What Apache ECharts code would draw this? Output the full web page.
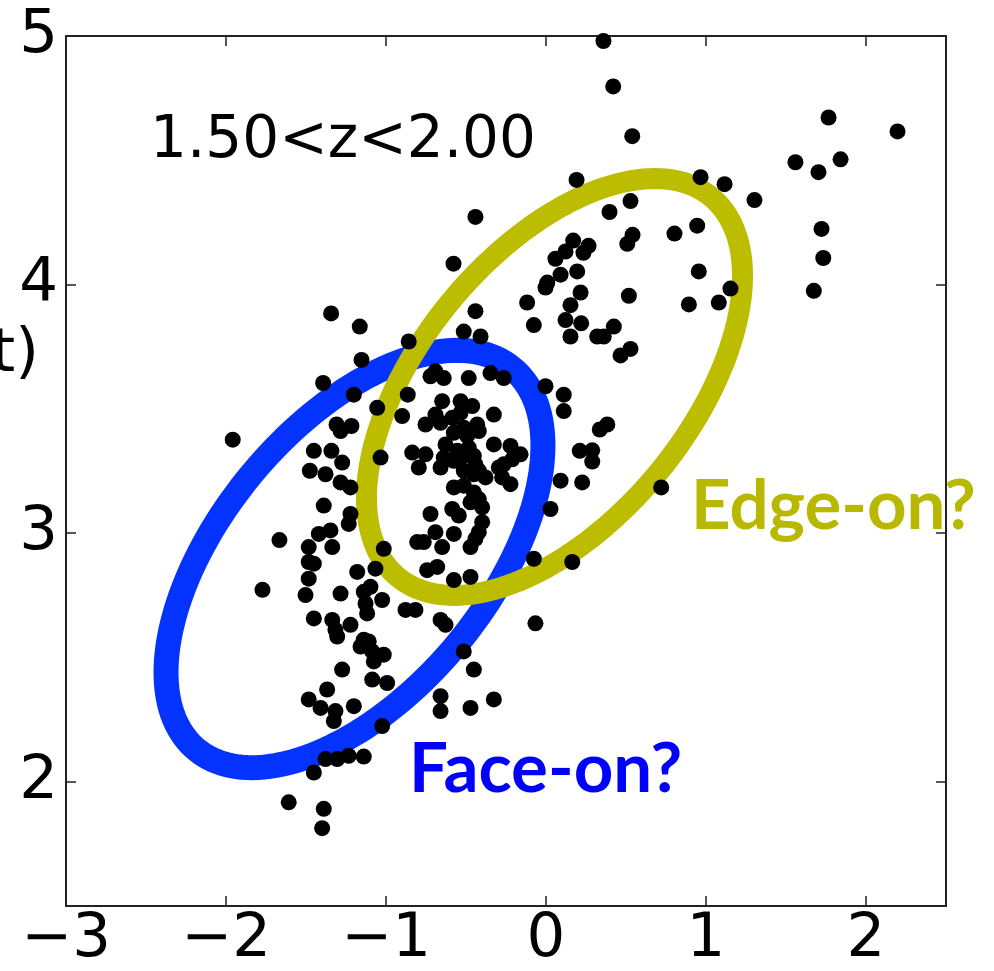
<!DOCTYPE html>
<html><head><meta charset="utf-8">
<script src="https://cdn.jsdelivr.net/npm/echarts@6/dist/echarts.min.js"></script>
<style>html,body{margin:0;padding:0;background:#fff}#c{width:994px;height:971px}</style>
</head><body><div id="c"></div>
<script>
const xTicks = [-3, -2, -1, 0, 1, 2];
const yTicks = [2, 3, 4, 5];
const xRange = [-3, 2.5];
const yRange = [1.5, 5];

const xValues = [
 0.359,0.42,0.539,0.191,0.966,1.116,1.303,0.528,0.397,0.945,0.803,0.541,0.508,0.17,0.266,0.234,0.122,0.059,0.195,0.091,
 0.008,-0.003,0.216,0.518,0.955,1.153,1.08,0.893,-0.118,0.153,1.766,2.197,1.559,1.841,1.703,1.722,1.733,1.674,0.122,0.22,
 0.153,0.424,0.32,0.361,0.528,0.466,0.111,0.111,0.383,0.336,0.211,0.289,0.289,0.091,0.226,0.72,-1.343,-1.164,-0.858,-1.153,
 -1.393,-1.201,-0.864,-1.055,-0.899,-1.309,-1.216,-1.284,-0.753,-1.451,-1.341,-1.274,-1.034,-0.836,-0.753,-0.795,-1.476,-1.378,-0.722,-0.441,
 -0.076,-0.514,-0.409,-0.691,-0.639,-0.483,-0.347,-0.264,-0.003,-0.649,-0.534,-0.461,-0.691,-0.659,-0.586,-0.534,-0.326,-0.43,-0.42,-0.514,
 -0.576,-0.493,-0.628,-0.555,-0.483,-0.639,-0.576,-0.514,-0.451,-0.441,-0.326,-0.222,-0.159,-0.211,-0.264,-0.514,-0.42,-0.295,-0.659,-1.284,
 -1.222,-1.389,-1.222,-1.233,-0.722,-1.666,-1.42,-1.347,-1.483,-1.336,-0.805,-0.764,-1.014,-1.483,-1.451,-1.483,-1.18,-1.066,-0.743,-1.772,
 -1.503,-1.284,-1.139,-1.097,-1.128,-1.024,-0.878,-0.816,-1.118,-1.451,-1.336,-1.316,-1.222,-1.139,-1.108,-0.451,-0.378,-0.274,-0.222,-0.576,
 -0.514,-0.451,-0.472,-0.42,-0.399,-0.586,-0.545,0.028,-0.399,-0.42,-0.441,-0.691,-0.576,-0.649,-0.472,-0.68,-0.576,-0.472,-0.076,0.164,
 -0.066,-0.659,-0.628,-1.305,-1.159,-1.086,-1.014,-1.076,-1.274,-1.086,-0.993,-1.368,-1.483,-1.409,-1.316,-1.326,-1.201,-1.024,-1.378,-1.305,
 -1.233,-1.139,-1.451,-1.608,-1.389,-1.399,-0.514,-0.451,-0.659,-0.659,-0.472,-0.326,-1.958,-0.441,-0.578
];
const yValues = [
 4.98,4.797,4.597,4.421,4.432,4.404,4.34,4.336,4.292,4.237,4.205,4.2,4.164,4.177,4.156,4.128,4.133,4.104,4.053,4.04,
 4.008,3.988,3.968,3.955,4.053,3.984,3.928,3.92,3.928,3.917,4.672,4.616,4.492,4.504,4.452,4.224,4.107,3.975,3.857,3.844,
 3.791,3.831,3.791,3.791,3.741,3.715,3.557,3.491,3.437,3.417,3.331,3.333,3.288,3.211,3.204,3.184,3.884,3.831,3.771,3.697,
 3.604,3.557,3.557,3.504,3.471,3.437,3.431,3.411,3.437,3.331,3.331,3.284,3.304,3.324,3.317,3.264,3.251,3.237,3.631,3.893,
 3.837,3.811,3.791,3.651,3.624,3.624,3.644,3.624,3.591,3.531,3.531,3.511,3.477,3.444,3.464,3.484,3.477,3.437,3.411,3.424,
 3.404,3.391,3.357,3.331,3.344,3.304,3.291,3.311,3.311,3.277,3.357,3.351,3.317,3.297,3.277,3.251,3.251,3.264,3.264,3.204,
 3.184,3.111,3.077,3.037,3.077,2.972,2.997,3.011,2.944,2.944,2.964,2.964,2.937,2.884,2.877,2.817,2.844,2.857,2.851,2.772,
 2.751,2.757,2.764,2.784,2.717,2.731,2.691,2.691,2.677,2.657,2.651,2.611,2.631,2.571,2.564,3.237,3.224,3.224,3.197,3.184,
 3.191,3.164,3.124,3.137,3.104,3.097,3.071,3.097,3.044,3.004,2.977,3.004,2.997,2.944,2.944,2.864,2.811,2.824,2.897,2.884,
 2.637,2.651,2.631,2.584,2.544,2.524,2.511,2.484,2.451,2.411,2.397,2.371,2.331,2.297,2.284,2.244,2.304,2.224,2.091,2.091,
 2.104,2.101,2.037,1.917,1.891,1.813,2.524,2.451,2.344,2.284,2.297,2.331,3.376,4.272,4.084
];

// ellipse annotations: centre and two conjugate half-axis vectors, in data units
const faceOnEllipse = { cx: -1.197, cy: 2.896, ux: 0.985, uy: 0.768, vx: -0.646, vy: 0.339 };
const edgeOnEllipse = { cx: 0.053, cy: 3.588, ux: 0.977, uy: 0.766, vx: -0.653, vy: 0.341 };

const points = xValues.map((x, i) => [x, yValues[i]]);

function ellipseSeries(e, color, width) {
  return {
    type: 'custom', silent: true, clip: false,
    xAxisIndex: 0, yAxisIndex: 0,
    data: [[e.cx, e.cy]],
    renderItem: function (params, api) {
      const pts = [];
      const n = 180;
      for (let k = 0; k < n; k++) {
        const t = 2 * Math.PI * k / n;
        const c = Math.cos(t), s = Math.sin(t);
        pts.push(api.coord([e.cx + e.ux * c + e.vx * s, e.cy + e.uy * c + e.vy * s]));
      }
      return { type: 'polygon', shape: { points: pts },
        style: { fill: 'none', stroke: color, lineWidth: width } };
    }
  };
}

const axisColor = '#222';
const fmt = v => (v < 0 ? '\u2212' + Math.abs(v) : String(v));

const chart = echarts.init(document.getElementById('c'), null, { renderer: 'canvas' });
chart.setOption({
  animation: false,
  backgroundColor: '#fff',
  grid: { left: 66, right: 48, top: 36, bottom: 60, containLabel: false },
  xAxis: [
    { type: 'value', min: xRange[0], max: xRange[1], position: 'bottom',
      axisLine: { show: true, onZero: false, lineStyle: { color: axisColor, width: 2 } },
      axisTick: { show: true, inside: true, length: 10, customValues: xTicks, lineStyle: { color: axisColor, width: 1.5 } },
      axisLabel: { customValues: xTicks, formatter: fmt, fontSize: 61, fontFamily: 'DejaVu Sans', color: '#000', margin: 4 },
      splitLine: { show: false } },
    { type: 'value', min: xRange[0], max: xRange[1], position: 'top',
      axisLine: { show: true, onZero: false, lineStyle: { color: axisColor, width: 2 } },
      axisTick: { show: true, inside: true, length: 10, customValues: xTicks, lineStyle: { color: axisColor, width: 1.5 } },
      axisLabel: { show: false }, splitLine: { show: false } }
  ],
  yAxis: [
    { type: 'value', min: yRange[0], max: yRange[1], position: 'left',
      axisLine: { show: true, onZero: false, lineStyle: { color: axisColor, width: 2 } },
      axisTick: { show: true, inside: true, length: 10, customValues: yTicks, lineStyle: { color: axisColor, width: 1.5 } },
      axisLabel: { customValues: yTicks, formatter: fmt, fontSize: 61, fontFamily: 'DejaVu Sans', color: '#000', margin: 8 },
      splitLine: { show: false } },
    { type: 'value', min: yRange[0], max: yRange[1], position: 'right',
      axisLine: { show: true, onZero: false, lineStyle: { color: axisColor, width: 2 } },
      axisTick: { show: true, inside: true, length: 10, customValues: yTicks, lineStyle: { color: axisColor, width: 1.5 } },
      axisLabel: { show: false }, splitLine: { show: false } }
  ],
  graphic: [
    { type: 'text', x: 150, y: 142, style: { text: '1.50<z<2.00', font: '58px "DejaVu Sans"', fill: '#000',
        align: 'left', verticalAlign: 'middle', textAlign: 'left', textVerticalAlign: 'middle' } },
    { type: 'text', x: 39, y: 355, style: { text: 't)', font: '61px "DejaVu Sans"', fill: '#000',
        align: 'right', verticalAlign: 'middle', textAlign: 'right', textVerticalAlign: 'middle' } },
    { type: 'text', x: 409, y: 770, z: 100, style: { text: 'Face-on?', font: 'bold 69px Lato', fill: '#0000ff',
        align: 'left', verticalAlign: 'middle', textAlign: 'left', textVerticalAlign: 'middle' } },
    { type: 'text', x: 691, y: 507, z: 100, style: { text: 'Edge-on?', font: 'bold 69px Lato', fill: '#b8b800',
        align: 'left', verticalAlign: 'middle', textAlign: 'left', textVerticalAlign: 'middle' } }
  ],
  series: [
    { type: 'scatter', xAxisIndex: 0, yAxisIndex: 0, data: points, symbol: 'circle', symbolSize: 16,
      itemStyle: { color: '#000', opacity: 1 }, silent: true },
    ellipseSeries(faceOnEllipse, '#0433ff', 25),
    ellipseSeries(edgeOnEllipse, '#bdbd00', 21)
  ]
});
</script></body></html>
